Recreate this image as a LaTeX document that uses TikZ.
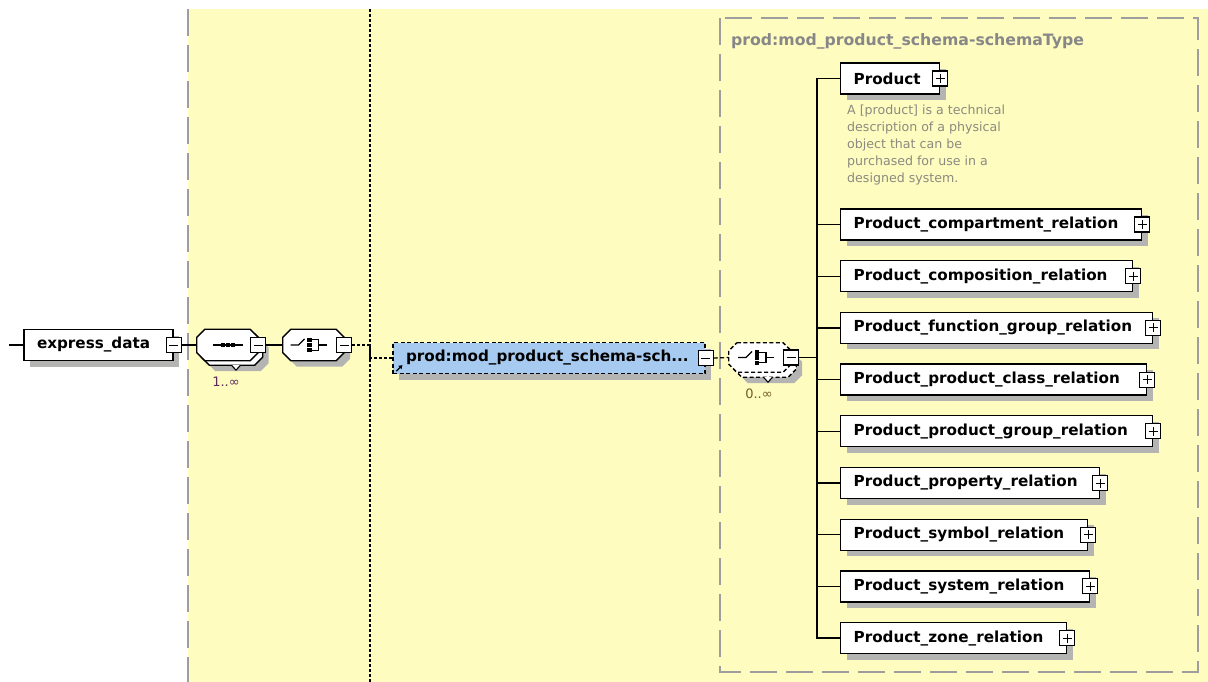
\documentclass[tikz,border=0pt]{standalone}
\usepackage{fontspec}
\setsansfont{DejaVu Sans}
\usetikzlibrary{shadows,calc,arrows.meta}

\definecolor{panel}{RGB}{255,252,192}
\definecolor{framegray}{RGB}{158,158,158}
\definecolor{shadowgray}{RGB}{180,180,178}
\definecolor{aliasblue}{RGB}{166,202,240}
\definecolor{notegray}{RGB}{138,138,128}
\definecolor{titlegray}{RGB}{135,135,135}
\definecolor{multA}{RGB}{92,40,92}
\definecolor{multB}{RGB}{112,92,40}

\tikzset{
  lbl/.style={font=\sffamily\bfseries\fontsize{15.2}{18}\selectfont},
  shade6/.style={general shadow={fill=shadowgray, shadow xshift=6pt, shadow yshift=-6pt}},
  elem/.style={draw=black, line width=1.3pt, fill=white, minimum height=31pt,
    inner xsep=13pt, inner ysep=0pt, align=left, lbl, shade6},
  dashline/.style={dash pattern=on 4pt off 2.5pt},
  alias/.style={elem, fill=aliasblue, dashline},
  pmbox/.style={draw=black, line width=1.1pt, fill=white, minimum size=15pt, inner sep=0pt},
  minusbox/.style={pmbox, path picture={\draw[line width=1pt]
    ([xshift=3pt]path picture bounding box.west) -- ([xshift=-3pt]path picture bounding box.east);}},
  plusbox/.style={pmbox, path picture={\draw[line width=1pt]
    ([xshift=3pt]path picture bounding box.west) -- ([xshift=-3pt]path picture bounding box.east)
    ([yshift=-3pt]path picture bounding box.north) -- ([yshift=3pt]path picture bounding box.south);}},
  octa/.style={rectangle, draw=none, minimum width=61pt, minimum height=31pt, inner sep=0pt},
  octline/.style={draw=black, line width=1.3pt, fill=white},
  conn/.style={line width=1.3pt, black},
  dotconn/.style={line width=1.3pt, black, dash pattern=on 3pt off 2pt},
  frameline/.style={framegray, line width=1.4pt, dash pattern=on 27pt off 9pt},
  glyph/.style={line width=1.2pt, black},
  mult/.style={font=\sffamily\fontsize{13}{15}\selectfont, inner sep=0pt},
  pointer/.style={line width=1.1pt, black, fill=white},
}

% chamfered outline drawn round a named compositor node
\newcommand\octoutline[2]{%
  \draw[#2] ([xshift=8pt]#1.north west) -- ([xshift=-8pt]#1.north east)
    -- ([yshift=-8pt]#1.north east) -- ([yshift=8pt]#1.south east)
    -- ([xshift=-8pt]#1.south east) -- ([xshift=8pt]#1.south west)
    -- ([yshift=8pt]#1.south west) -- ([yshift=-8pt]#1.north west) -- cycle;}

% switch-and-bracket icon of a choice compositor
\newcommand\choiceglyph[2]{%
  \begin{scope}[shift={(#1.center)}, xshift=#2]
    \draw[glyph] (-22,0) -- (-14,0) -- (-8,-6);
    \foreach \dy in {-5.2,0,5.2} \fill (-5.5,\dy-2.2) rectangle (-1,\dy+2.2);
    \draw[glyph] (-1,-5.2) -- (6,-5.2) -- (6,5.2) -- (-1,5.2);
    \draw[glyph] (6,0) -- (14,0);
  \end{scope}}

\begin{document}
\begin{tikzpicture}[x=1pt,y=-1pt]
\useasboundingbox (0,0) rectangle (1208,682);
\fill[white] (0,0) rectangle (1208,682);

% content panel and guides
\fill[panel] (188,9) rectangle (1208,682);
\draw[frameline] (188,9) -- (188,682);
\coordinate (guideTop) at (370,9);
\coordinate (guideBot) at (370,682);
\draw[dotconn] (guideTop) -- (guideBot);
\draw[frameline] (720,18) rectangle (1198,672);
\node[anchor=west, font=\sffamily\bfseries\fontsize{15.7}{18}\selectfont, text=titlegray, inner sep=0pt]
  (title) at (731,41) {prod:mod\_product\_schema-schemaType};

% root element
\coordinate (src) at (9,345);
\node[elem, text width=123pt] (ed) at (98.5,345) {express\_data};
\node[minusbox] (edm) at (ed.east) {};

% sequence compositor, 1..unbounded
\node[octa] (seqb) at (232,349.5) {};
\octoutline{seqb}{octline, shade6}
\draw[pointer] ($(seqb.south)+(-0.5,0)$) -- ++(4.5,5) -- ++(4.5,-5);
\node[octa] (seq) at (227.5,345) {};
\octoutline{seq}{octline}
\node[minusbox] (seqm) at (seq.east) {};
\begin{scope}[shift={(seq.center)}]
  \draw[glyph] (-15,0) -- (15,0);
  \foreach \dx in {-5,0,5} \fill (\dx-2,-2) rectangle (\dx+2,2);
\end{scope}
\node[mult, text=multA] (m1) at (226,382) {1..∞};

% choice compositor
\node[octa] (ch1) at (313.5,345) {};
\octoutline{ch1}{octline, shade6}
\node[minusbox] (ch1m) at (ch1.east) {};
\choiceglyph{ch1}{-1pt}

% referenced schema element
\node[alias, text width=286pt] (blue) at (549,358) {prod:mod\_product\_schema-sch...};
\node[minusbox] (bluem) at (blue.east) {};
\draw[line width=1.4pt, -{Triangle[length=3.5pt,width=4.5pt]}]
  ($(blue.south west)+(4,-3)$) -- ++(6,-6);

% optional choice, 0..unbounded
\node[octa, minimum width=62pt, minimum height=29pt] (ch2b) at (765,362.5) {};
\octoutline{ch2b}{octline, dashline, shade6}
\draw[pointer] ($(ch2b.south)+(-1.5,0)$) -- ++(4.5,5) -- ++(4.5,-5);
\node[octa, minimum width=62pt, minimum height=29pt] (ch2) at (760,357.5) {};
\octoutline{ch2}{octline, dashline}
\node[minusbox] (ch2m) at (ch2.east) {};
\choiceglyph{ch2}{0pt}
\node[mult, text=multB] (m2) at (759,394) {0..∞};

% connectors along the main axis
\draw[conn] (src) -- (ed.west);
\draw[conn] (edm.east) -- (seq.west);
\draw[conn] (seqm.east) -- (ch1.west);
\draw[dotconn] (ch1m.east) -- (ch1m.east -| guideTop) |- (blue.west);
\draw[conn, dashline] (bluem.east) -- (ch2.west);
\coordinate (trunk) at (817,357.5);
\draw[conn] (ch2m.east) -- (trunk);

% child elements
\node[elem, text width=73pt, anchor=west] (prod) at (840,78.5) {Product};
\node[plusbox] (prodx) at (prod.east) {};
\draw[conn] (trunk) |- (prod.west);
\node[anchor=north west, align=left, inner sep=0pt, text=notegray,
  font=\sffamily\fontsize{12.6}{17}\selectfont] (note) at (847,105)
  {A [product] is a technical\\description of a physical\\object that can be\\purchased for use in a\\designed system.};

\foreach \nm/\yy/\rr/\tx in {
  comp/224.5/1141/Product\_compartment\_relation,
  cmps/276.2/1132/Product\_composition\_relation,
  func/327.9/1152/Product\_function\_group\_relation,
  pcls/379.6/1146/Product\_product\_class\_relation,
  pgrp/431.3/1152/Product\_product\_group\_relation,
  prop/483.0/1099/Product\_property\_relation,
  symb/534.7/1087/Product\_symbol\_relation,
  syst/586.4/1089/Product\_system\_relation,
  zone/638.1/1066/Product\_zone\_relation} {
  \pgfmathsetmacro\tw{\rr-866}
  \node[elem, text width=\tw pt, anchor=west] (\nm) at (840,\yy) {\tx};
  \node[plusbox] (\nm-x) at (\nm.east) {};
  \draw[conn] (trunk) |- (\nm.west);
}
\end{tikzpicture}
\end{document}
